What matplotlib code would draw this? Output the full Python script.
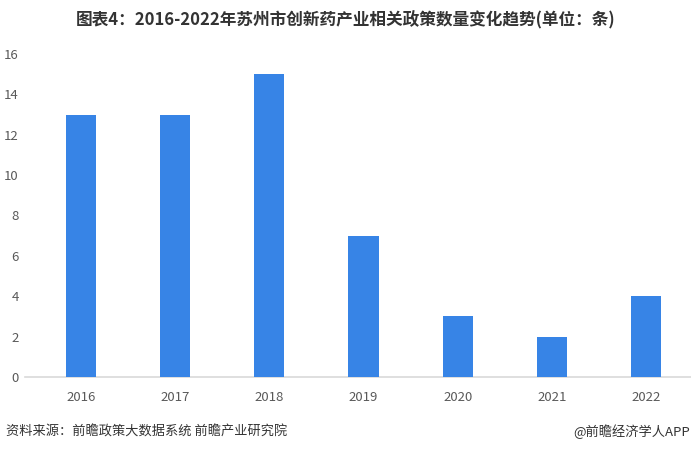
import matplotlib
matplotlib.use('Agg')
import matplotlib.pyplot as plt

plt.rcParams['font.family'] = ['Noto Sans CJK SC', 'DejaVu Sans']

# Data
years = ['2016', '2017', '2018', '2019', '2020', '2021', '2022']
counts = [13, 13, 15, 7, 3, 2, 4]
y_ticks = [0, 2, 4, 6, 8, 10, 12, 14, 16]

title = '图表4：2016-2022年苏州市创新药产业相关政策数量变化趋势(单位：条)'
source = '资料来源：前瞻政策大数据系统 前瞻产业研究院'
credit = '@前瞻经济学人APP'

fig = plt.figure(figsize=(6.91, 4.54), dpi=100)
ax = fig.add_axes([34 / 691, 77 / 454, 659 / 691, 323 / 454])

x = range(len(years))
ax.bar(x, counts, width=0.32, color='#3784E6', zorder=2)

ax.set_xlim(-0.5, len(years) - 0.5)
ax.set_ylim(0, 16)
ax.set_xticks(list(x))
ax.set_xticklabels(years)
ax.set_yticks(y_ticks)
ax.tick_params(axis='both', length=0, labelsize=9.5, colors='#595959')
ax.tick_params(axis='y', pad=11)
ax.tick_params(axis='x', pad=10)

for side in ['top', 'right', 'left', 'bottom']:
    ax.spines[side].set_visible(False)
ax.plot([-0.013, 1.01], [0, 0], transform=ax.transAxes, color='#d9d9d9',
        lw=1.2, clip_on=False, zorder=1)

fig.text(0.5, 1 - 20 / 454, title, ha='center', va='center',
         fontsize=12, fontweight='bold', color='#333333')
fig.text(6 / 691, 1 - 432 / 454, source, ha='left', va='center',
         fontsize=9.5, color='#333333')
fig.text(1 - 1 / 691, 1 - 432 / 454, credit, ha='right', va='center',
         fontsize=9.5, color='#333333')

fig.savefig('out.png', dpi=100)
